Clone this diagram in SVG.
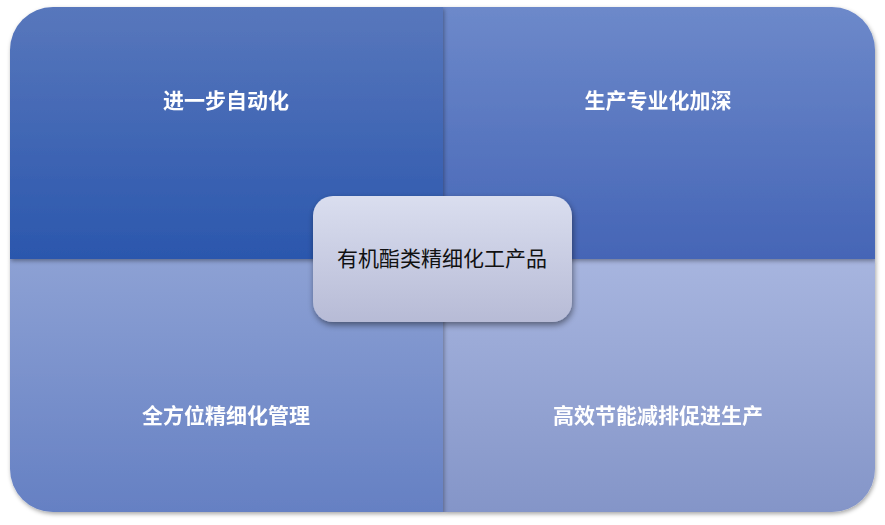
<svg xmlns="http://www.w3.org/2000/svg" width="885" height="525" viewBox="0 0 885 525">
<style>
.q{font-family:"Noto Sans CJK SC","Noto Sans",sans-serif;font-size:21px;font-weight:bold;fill:#ffffff;text-anchor:middle}
.c{font-family:"Noto Sans CJK SC","Noto Sans",sans-serif;font-size:21px;fill:#111111;text-anchor:middle}
</style>
<defs>
<linearGradient id="gTL" x1="0" y1="0" x2="0" y2="1"><stop offset="0" stop-color="#5877bc"/><stop offset="1" stop-color="#2b57ad"/></linearGradient>
<linearGradient id="gTR" x1="0" y1="0" x2="0" y2="1"><stop offset="0" stop-color="#6d89ca"/><stop offset="1" stop-color="#4565b6"/></linearGradient>
<linearGradient id="gBL" x1="0" y1="0" x2="0" y2="1"><stop offset="0" stop-color="#8da1d4"/><stop offset="1" stop-color="#6580c3"/></linearGradient>
<linearGradient id="gBR" x1="0" y1="0" x2="0" y2="1"><stop offset="0" stop-color="#a7b5df"/><stop offset="1" stop-color="#8495c8"/></linearGradient>
<linearGradient id="gC" x1="0" y1="0" x2="0" y2="1"><stop offset="0" stop-color="#dadeef"/><stop offset="1" stop-color="#b7bbd6"/></linearGradient>
<filter id="sh" x="-10%" y="-10%" width="120%" height="120%"><feDropShadow dx="1" dy="2" stdDeviation="2" flood-color="#000" flood-opacity="0.35"/></filter>
<filter id="shc" x="-10%" y="-10%" width="125%" height="130%"><feDropShadow dx="1" dy="3" stdDeviation="3" flood-color="#000" flood-opacity="0.45"/></filter>
</defs>
<g id="q-br" filter="url(#sh)">
<path d="M443 259 H875 V469 A43 43 0 0 1 832 512 H443 Z" fill="url(#gBR)"/>
<text class="q" x="658" y="423">高效节能减排促进生产</text>
</g>
<g id="q-bl" filter="url(#sh)">
<path d="M10 259 H443 V512 H53 A43 43 0 0 1 10 469 Z" fill="url(#gBL)"/>
<text class="q" x="226" y="423">全方位精细化管理</text>
</g>
<g id="q-tr" filter="url(#sh)">
<path d="M443 7 H832 A43 43 0 0 1 875 50 V259 H443 Z" fill="url(#gTR)"/>
<text class="q" x="658" y="108">生产专业化加深</text>
</g>
<g id="q-tl" filter="url(#sh)">
<path d="M53 7 H443 V259 H10 V50 A43 43 0 0 1 53 7 Z" fill="url(#gTL)"/>
<text class="q" x="226" y="108">进一步自动化</text>
</g>
<g id="connectors"></g>
<g id="center">
<rect x="313" y="196" width="259" height="126" rx="20" ry="20" fill="url(#gC)" filter="url(#shc)"/>
<text class="c" x="442" y="266">有机酯类精细化工产品</text>
</g>
</svg>
